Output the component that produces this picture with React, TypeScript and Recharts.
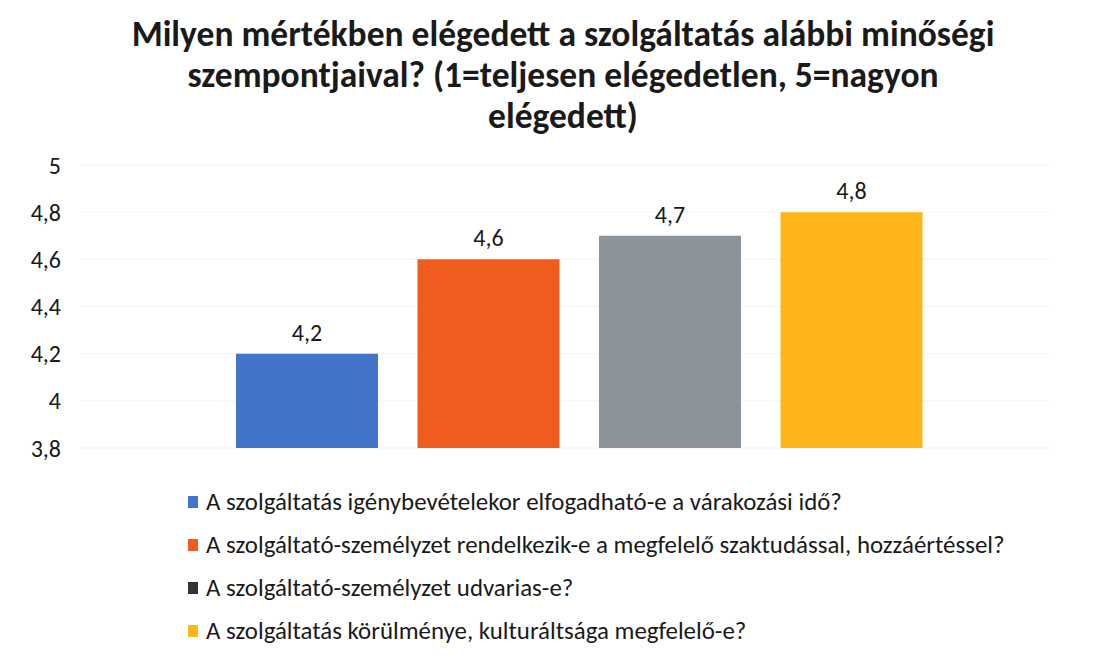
import React from "react";
import { BarChart, Bar, Cell, XAxis, YAxis, CartesianGrid, LabelList } from "recharts";

const titleLines = [
  "Milyen mértékben elégedett a szolgáltatás alábbi minőségi",
  "szempontjaival? (1=teljesen elégedetlen, 5=nagyon",
  "elégedett)",
];

const categories = [
  "A szolgáltatás igénybevételekor elfogadható-e a várakozási idő?",
  "A szolgáltató-személyzet rendelkezik-e a megfelelő szaktudással, hozzáértéssel?",
  "A szolgáltató-személyzet udvarias-e?",
  "A szolgáltatás körülménye, kulturáltsága megfelelő-e?",
];
const values = [4.2, 4.6, 4.7, 4.8];
const barColors = ["#4374cb", "#ee5c1e", "#8b949b", "#ffb517"];
const legendColors = ["#4374cb", "#ee5c1e", "#333333", "#ffb517"];
const yTicks = [3.8, 4, 4.2, 4.4, 4.6, 4.8, 5];

const FONT = "Carlito, 'Liberation Sans Narrow', 'Open Sans', sans-serif";

const fmt = (v: any) => String(Math.round(Number(v) * 10) / 10).replace(".", ",");

const data = categories.map((name, i) => ({ name, value: values[i] }));

export default function App() {
  return (
    <div style={{ position: "absolute", left: 0, top: 0, width: 1099, height: 656, background: "#fff", fontFamily: FONT }}>
      <div style={{ position: "absolute", left: 0, top: 14, width: 1126, textAlign: "center", fontWeight: 700, fontSize: 35.5, lineHeight: "41px", color: "#1a1a1a" }}>
        {titleLines.map((l) => (
          <div key={l}>{l}</div>
        ))}
      </div>
      <div style={{ position: "absolute", left: 0, top: 0 }}>
        <BarChart width={1099} height={480} data={data} margin={{ top: 165, right: 49, left: 0, bottom: 32 }}>
          <CartesianGrid vertical={false} stroke="#f3f3f3" />
          <XAxis dataKey="name" hide padding={{ left: 136, right: 108 }} />
          <YAxis
            domain={[3.8, 5]}
            ticks={yTicks}
            interval={0}
            width={80}
            axisLine={false}
            tickLine={false}
            tickFormatter={fmt}
            tick={{ fill: "#1a1a1a", fontSize: 24, fontFamily: FONT }}
            tickMargin={13}
          />
          <Bar dataKey="value" barSize={142} isAnimationActive={false}>
            {data.map((d, i) => (
              <Cell key={d.name} fill={barColors[i]} />
            ))}
            <LabelList dataKey="value" position="top" offset={13} formatter={fmt} fill="#1a1a1a" fontSize={24} fontFamily={FONT} />
          </Bar>
        </BarChart>
      </div>
      <div style={{ position: "absolute", left: 188, top: 480, fontSize: 24.9, color: "#1a1a1a" }}>
        {categories.map((c, i) => (
          <div key={c} style={{ display: "flex", alignItems: "center", height: 43 }}>
            <span style={{ display: "inline-block", width: 10, height: 12, background: legendColors[i], marginRight: 8 }} />
            <span>{c}</span>
          </div>
        ))}
      </div>
    </div>
  );
}
